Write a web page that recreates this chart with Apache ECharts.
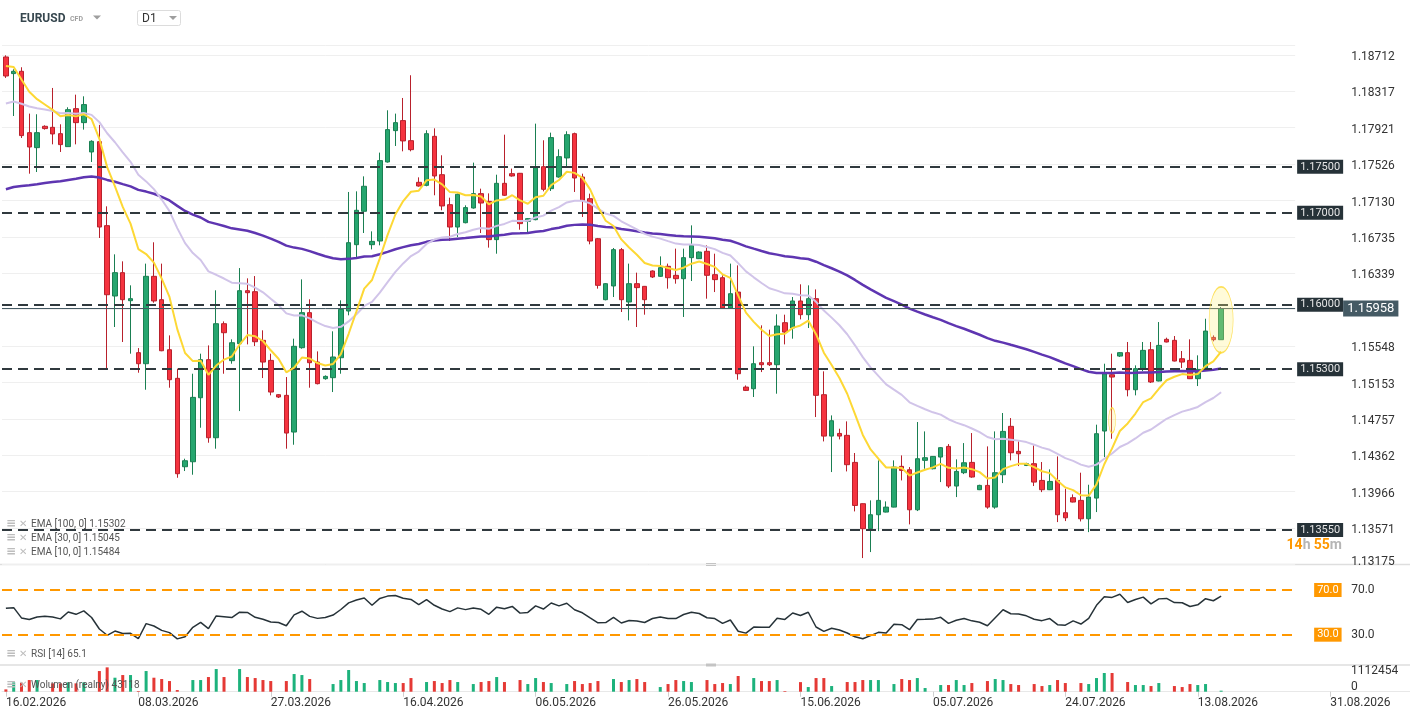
<!DOCTYPE html>
<html><head><meta charset="utf-8">
<script src="https://cdn.jsdelivr.net/npm/echarts@6/dist/echarts.min.js"></script>
<style>html,body{margin:0;padding:0;background:#fff}#c{width:1410px;height:725px}</style>
</head><body><div id="c"></div>
<script>
// ---- data (daily candles, EURUSD) ----
const opens = [1.18694,1.18513,1.18538,1.17871,1.17708,1.17940,1.17929,1.17860,1.17719,1.18132,1.17980,1.17661,1.17773,1.16860,1.16095,1.16349,1.16044,1.15479,1.15359,1.16309,1.16055,1.15511,1.15200,1.14239,1.14293,1.14989,1.15403,1.14554,1.15794,1.15392,1.15577,1.16153,1.16142,1.15613,1.15395,1.15022,1.15015,1.14616,1.15533,1.15914,1.15377,1.15196,1.15207,1.15424,1.15932,1.16653,1.17016,1.16653,1.16693,1.17552,1.17893,1.18002,1.17784,1.17331,1.17298,1.17831,1.17414,1.17088,1.16845,1.16892,1.17052,1.17208,1.17124,1.16708,1.17320,1.17425,1.17429,1.16907,1.16925,1.17501,1.17262,1.17389,1.17596,1.17860,1.17389,1.17153,1.16718,1.16055,1.16204,1.16599,1.16030,1.16229,1.16200,1.16367,1.16309,1.16418,1.16320,1.16283,1.16512,1.16501,1.16581,1.16327,1.16294,1.15964,1.16138,1.15105,1.15087,1.15370,1.15370,1.15348,1.15805,1.15747,1.16041,1.15892,1.16066,1.15022,1.14572,1.14601,1.14580,1.14286,1.13837,1.13565,1.13717,1.13746,1.13800,1.14243,1.14206,1.13771,1.14308,1.14217,1.14344,1.14460,1.14029,1.14174,1.14286,1.13989,1.14036,1.13800,1.14152,1.14678,1.14406,1.14253,1.14272,1.14090,1.13989,1.14090,1.13739,1.13902,1.13873,1.13673,1.13898,1.14627,1.15239,1.15442,1.15479,1.15076,1.15297,1.15511,1.15171,1.15624,1.15613,1.15413,1.15395,1.15196,1.15297,1.15645,1.15620];
const closes = [1.18487,1.18538,1.17839,1.17715,1.17871,1.17915,1.17857,1.17741,1.18121,1.17980,1.18176,1.17777,1.16845,1.16109,1.16349,1.16055,1.16066,1.15359,1.16309,1.16041,1.15500,1.15185,1.14163,1.14304,1.14993,1.15403,1.14554,1.15794,1.15696,1.15587,1.16153,1.16131,1.15598,1.15377,1.15051,1.14997,1.14605,1.15548,1.15914,1.15370,1.15142,1.15221,1.15432,1.15950,1.16675,1.17027,1.17288,1.16689,1.17567,1.17904,1.17980,1.17781,1.17686,1.17291,1.17860,1.17400,1.17074,1.16845,1.17201,1.17056,1.17208,1.17106,1.16708,1.17320,1.17190,1.17400,1.16882,1.16936,1.17491,1.17255,1.17817,1.17610,1.17849,1.17378,1.17135,1.16693,1.16211,1.16229,1.16599,1.16055,1.16229,1.16186,1.16055,1.16302,1.16403,1.16294,1.16283,1.16512,1.16646,1.16573,1.16320,1.16273,1.15964,1.16120,1.15250,1.15069,1.15359,1.15348,1.15348,1.15769,1.15703,1.16041,1.15892,1.16066,1.15015,1.14572,1.14739,1.14572,1.14261,1.13818,1.13565,1.13717,1.13873,1.13800,1.14235,1.14199,1.13771,1.14326,1.14337,1.14351,1.14446,1.14029,1.14188,1.14282,1.14127,1.14036,1.13800,1.14174,1.14623,1.14391,1.14380,1.14272,1.14072,1.13989,1.14079,1.13717,1.13684,1.13855,1.13673,1.13909,1.14598,1.15250,1.15214,1.15479,1.15076,1.15305,1.15504,1.15160,1.15558,1.15595,1.15388,1.15377,1.15196,1.15297,1.15714,1.15620,1.15958];
const lows = [1.18466,1.18052,1.17813,1.17425,1.17443,1.17904,1.17744,1.17661,1.17719,1.17744,1.17904,1.17552,1.16726,1.15305,1.15758,1.15595,1.15468,1.15261,1.15076,1.16022,1.15495,1.15098,1.14119,1.14192,1.14152,1.14663,1.14500,1.14435,1.15250,1.15359,1.14844,1.15569,1.15551,1.15203,1.15015,1.14986,1.14435,1.14478,1.15522,1.15098,1.15134,1.15185,1.15051,1.15250,1.15885,1.16519,1.16780,1.16602,1.16646,1.17545,1.17726,1.17668,1.17668,1.17284,1.17288,1.17190,1.17027,1.16693,1.16737,1.16885,1.17045,1.16780,1.16621,1.16555,1.17182,1.17393,1.16816,1.16791,1.16918,1.17233,1.17237,1.17382,1.17498,1.17226,1.16954,1.16657,1.16175,1.16048,1.16084,1.15921,1.15830,1.15758,1.15892,1.16291,1.16302,1.16175,1.16229,1.15867,1.16258,1.16497,1.16066,1.16138,1.15957,1.15957,1.15185,1.15062,1.14997,1.15268,1.15334,1.15033,1.15569,1.15631,1.15841,1.15747,1.14779,1.14514,1.14181,1.14536,1.14188,1.13753,1.13246,1.13311,1.13539,1.13742,1.13797,1.14090,1.13612,1.13757,1.14217,1.14210,1.14072,1.14007,1.13909,1.14159,1.14119,1.13985,1.13782,1.13782,1.14061,1.14308,1.14246,1.14246,1.14029,1.13963,1.13985,1.13637,1.13648,1.13851,1.13644,1.13528,1.13746,1.14344,1.14543,1.15432,1.15004,1.15015,1.15279,1.15149,1.15167,1.15591,1.15384,1.15312,1.15192,1.15116,1.15287,1.15602,1.15620];
const highs = [1.18712,1.18560,1.18582,1.18078,1.18071,1.17951,1.18357,1.17962,1.18147,1.18284,1.18266,1.17788,1.17955,1.17070,1.16548,1.16472,1.16211,1.15529,1.16447,1.16679,1.16447,1.15667,1.15305,1.14326,1.15250,1.15468,1.15558,1.16157,1.15819,1.15624,1.16399,1.16287,1.16312,1.15722,1.15468,1.15029,1.15214,1.15631,1.16276,1.16059,1.15493,1.15232,1.15711,1.16048,1.17226,1.17233,1.17396,1.16798,1.17654,1.18114,1.18078,1.18248,1.18495,1.17385,1.17897,1.17918,1.17625,1.17164,1.17208,1.17081,1.17545,1.17262,1.17211,1.17414,1.17849,1.17480,1.17433,1.16943,1.17969,1.17788,1.17871,1.17690,1.17886,1.17871,1.17425,1.17208,1.16726,1.16236,1.16617,1.16617,1.16447,1.16349,1.16204,1.16374,1.16526,1.16447,1.16610,1.16610,1.16863,1.16581,1.16646,1.16555,1.16320,1.16447,1.16428,1.15123,1.15548,1.15776,1.15729,1.15896,1.15892,1.16084,1.16222,1.16211,1.16167,1.15276,1.14797,1.14652,1.14732,1.14388,1.13840,1.13873,1.14308,1.13862,1.14308,1.14362,1.14235,1.14725,1.14623,1.14355,1.14453,1.14485,1.14319,1.14496,1.14605,1.14043,1.14460,1.14623,1.14823,1.14768,1.14514,1.14282,1.14471,1.14290,1.14210,1.14351,1.14000,1.13938,1.14174,1.14043,1.14696,1.15359,1.15468,1.15486,1.15595,1.15341,1.15595,1.15595,1.15812,1.15642,1.15660,1.15497,1.15624,1.15450,1.15848,1.15667,1.15975];
const volumes = [97000,389000,375000,486000,486000,0,347000,347000,389000,347000,389000,0,861000,1014000,583000,694000,694000,28000,861000,583000,528000,444000,69000,0,486000,486000,611000,944000,611000,0,944000,611000,569000,486000,444000,0,444000,736000,694000,528000,0,0,319000,486000,903000,444000,361000,0,486000,403000,361000,361000,569000,0,403000,444000,361000,486000,403000,0,319000,403000,444000,611000,403000,0,486000,319000,569000,403000,361000,0,319000,444000,319000,361000,444000,0,528000,403000,486000,528000,403000,0,194000,319000,486000,444000,403000,0,486000,319000,361000,319000,653000,0,569000,444000,444000,486000,28000,0,400000,194000,569000,569000,236000,0,403000,403000,486000,486000,486000,0,319000,528000,486000,569000,153000,0,278000,278000,486000,278000,361000,0,444000,528000,486000,319000,278000,0,319000,236000,278000,486000,361000,0,361000,319000,569000,778000,778000,0,403000,278000,278000,236000,361000,0,236000,194000,319000,278000,319000,0,43118];
const dateLabels = ['16.02.2026','08.03.2026','27.03.2026','16.04.2026','06.05.2026','26.05.2026','15.06.2026','05.07.2026','24.07.2026','13.08.2026','31.08.2026'];
const priceTicks = ['1.18712','1.18317','1.17921','1.17526','1.17130','1.16735','1.16339','1.15548','1.15153','1.14757','1.14362','1.13966','1.13571','1.13175'];
const levels = [1.175, 1.17, 1.16, 1.153, 1.1355];
const lastPrice = 1.15958;
const rsiLevels = [70, 30];
const volumeMax = 1112454;
// indicator starting values read at the first candle
const ema10Start = 1.18596, ema30Start = 1.18187, ema100Start = 1.17255;
const rsiStartGain = 0.0015, rsiStartLoss = 0.0013;
// highlight annotations (bar index, price)
const highlightBig = [156, 1.15836];
const highlightSmall = [142, 1.14743];

// ---- indicators (same definitions the chart uses) ----
function ema(src, n, start) {
  const k = 2 / (n + 1), out = [start];
  for (let i = 1; i < src.length; i++) out.push(out[i - 1] + k * (src[i] - out[i - 1]));
  return out;
}
function rsi(src, n, g0, l0) {
  let g = g0, l = l0; const out = [100 * g / (g + l)];
  for (let i = 1; i < src.length; i++) {
    const d = src[i] - src[i - 1];
    g = (g * (n - 1) + Math.max(d, 0)) / n;
    l = (l * (n - 1) + Math.max(-d, 0)) / n;
    out.push(100 * g / (g + l));
  }
  return out;
}

// ---- layout ----
const STEP = 17, BAR = 7.79, LEFT = 2, MAIN_CATS = 166, VOL_CATS = 181;
const cats = n => Array.from({length: n}, (_, i) => (i % STEP === 0 && dateLabels[i / STEP]) ? dateLabels[i / STEP] : ('d' + i));
const showDate = i => i % STEP === 0;
const FONT = 'Roboto';
const yInt = 0.0039572;

const candles = opens.map((o, i) => [o, closes[i], lows[i], highs[i]]);
const UP = '#26a66f', DOWN = '#f5333f';
const volData = volumes.map((v, i) => ({value: v, itemStyle: {color: closes[i] >= opens[i] ? '#1db27c' : '#e53935'}}));

const levelLabel = {show: true, position: 'end', distance: 2, backgroundColor: '#263238', color: '#e6e6e6',
  fontSize: 11, fontFamily: FONT, padding: [2, 3, 1, 3]};
const lineData = levels.map(v => ({yAxis: v, lineStyle: {color: '#30393e', width: 2, type: [10, 6]},
  label: Object.assign({}, levelLabel, {formatter: v.toFixed(5)})}));
lineData.push({yAxis: lastPrice, lineStyle: {color: '#455a64', width: 1, type: 'solid'},
  label: {show: true, position: 'end', distance: 48, backgroundColor: '#455a64', color: '#fff', fontSize: 13,
    fontFamily: FONT, padding: [2, 4, 1, 4], formatter: lastPrice.toFixed(5)}});

const legendItems = [
  {y: 524, t: 'EMA [100, 0] 1.15302'},
  {y: 538, t: 'EMA [30, 0] 1.15045'},
  {y: 552, t: 'EMA [10, 0] 1.15484'},
  {y: 654, t: 'RSI [14] 65.1'},
  {y: 685, t: 'Wolumen (realny) 43118'}
];
const graphics = [
  {type: 'text', x: 20, y: 18.5, style: {text: 'EURUSD', font: 'bold 12px Roboto', fill: '#37474f', verticalAlign: 'middle'}},
  {type: 'text', x: 70, y: 19, style: {text: 'CFD', font: 'bold 7px Roboto', fill: '#9e9e9e', verticalAlign: 'middle'}},
  {type: 'polygon', shape: {points: [[93, 15.5], [101, 15.5], [97, 19.5]]}, style: {fill: '#9e9e9e'}},
  {type: 'rect', shape: {x: 137.5, y: 10.5, width: 43, height: 15, r: 2}, style: {fill: '#fff', stroke: '#dcdcdc'}},
  {type: 'text', x: 142, y: 19, style: {text: 'D1', font: '12px Roboto', fill: '#333', verticalAlign: 'middle'}},
  {type: 'polygon', shape: {points: [[169, 16], [177, 16], [173, 20]]}, style: {fill: '#9e9e9e'}},
  {type: 'line', shape: {x1: 0, y1: 564.5, x2: 1410, y2: 564.5}, style: {stroke: '#dedede', lineWidth: 1.5}},
  {type: 'line', shape: {x1: 0, y1: 665, x2: 1410, y2: 665}, style: {stroke: '#dedede', lineWidth: 1.5}},
  {type: 'rect', shape: {x: 706, y: 563, width: 10, height: 3}, style: {fill: '#c4c4c4'}},
  {type: 'rect', shape: {x: 706, y: 663.5, width: 10, height: 3}, style: {fill: '#c4c4c4'}},
  {type: 'text', x: 1342, y: 545, z: 20, style: {text: '{o|14}{g|h} {o|55}{g|m}', align: 'right', verticalAlign: 'middle',
    rich: {o: {fill: '#ff9800', font: 'bold 14px Roboto'}, g: {fill: '#b5b5b5', font: 'bold 14px Roboto'}}}}
];
legendItems.forEach(it => {
  graphics.push({type: 'text', x: 6, y: it.y, z: 20, style: {text: '≡', font: 'bold 12px DejaVu Sans', fill: '#bdbdbd', verticalAlign: 'middle'}});
  graphics.push({type: 'text', x: 19, y: it.y, z: 20, style: {text: '✕', font: 'bold 10px DejaVu Sans', fill: '#bdbdbd', verticalAlign: 'middle'}});
  graphics.push({type: 'text', x: 31, y: it.y, z: 20, style: {text: it.t, font: '10px Roboto', fill: '#555', verticalAlign: 'middle'}});
});

const chart = echarts.init(document.getElementById('c'), null, {renderer: 'canvas'});
chart.setOption({
  animation: false,
  backgroundColor: '#fff',
  textStyle: {fontFamily: FONT},
  grid: [
    {left: LEFT, top: 45, width: MAIN_CATS * BAR, height: 519.5, containLabel: false, outerBoundsMode: 'none'},
    {left: LEFT, top: 556.5, width: MAIN_CATS * BAR, height: 111.7, containLabel: false, outerBoundsMode: 'none'},
    {left: LEFT, top: 665, width: VOL_CATS * BAR, height: 26.7, containLabel: false, outerBoundsMode: 'none'}
  ],
  xAxis: [
    {type: 'category', gridIndex: 0, data: cats(MAIN_CATS), show: false},
    {type: 'category', gridIndex: 1, data: cats(MAIN_CATS), show: false},
    {type: 'category', gridIndex: 2, data: cats(VOL_CATS),
      axisLine: {show: true, lineStyle: {color: '#e8e8e8', width: 1}},
      axisTick: {show: true, alignWithLabel: true, interval: showDate, length: 5, lineStyle: {color: '#cfcfcf'}},
      axisLabel: {interval: showDate, align: 'left', margin: 5, fontSize: 12, color: '#333', fontFamily: FONT},
      splitLine: {show: false}}
  ],
  yAxis: [
    {type: 'value', gridIndex: 0, position: 'right', min: yInt * 286, max: 1.18824, interval: yInt,
      axisLine: {show: false}, axisTick: {show: false},
      splitLine: {show: true, lineStyle: {color: '#efefef', width: 1}},
      axisLabel: {margin: 56, fontSize: 12, color: '#333', fontFamily: FONT, showMaxLabel: false, padding: [4, 0, 0, 0],
        formatter: v => { const h = priceTicks.find(t => Math.abs(+t - v) < 0.0002); if (!h) return ''; return h === '1.13175' ? '{low|' + h + '}' : h; },
        rich: {low: {padding: [0, 0, 9, 0], fontSize: 12, color: '#333', fontFamily: FONT}}}},
    {type: 'value', gridIndex: 1, position: 'right', min: 0, max: 100, interval: 10,
      axisLine: {show: false}, axisTick: {show: false}, splitLine: {show: false},
      axisLabel: {margin: 56, fontSize: 12, color: '#333', fontFamily: FONT, padding: [3, 0, 0, 0],
        formatter: v => rsiLevels.some(l => Math.abs(l - v) < 0.01) ? v.toFixed(1) : ''}},
    {type: 'value', gridIndex: 2, position: 'right', min: 0, max: volumeMax, interval: volumeMax,
      axisLine: {show: false}, axisTick: {show: false}, splitLine: {show: false},
      axisLabel: {inside: true, align: 'left', margin: VOL_CATS * BAR + LEFT - 1351, fontSize: 12, color: '#333', fontFamily: FONT,
        formatter: v => v === 0 ? '{b|0}' : (v >= volumeMax ? '{t|' + volumeMax + '}' : ''),
        rich: {t: {padding: [12, 0, 0, 0], fontSize: 12, color: '#333', fontFamily: FONT},
               b: {padding: [0, 0, 9, 0], fontSize: 12, color: '#333', fontFamily: FONT}}}}
  ],
  series: [
    {type: 'candlestick', name: 'EURUSD', xAxisIndex: 0, yAxisIndex: 0, data: candles, barWidth: 5, z: 2,
      itemStyle: {color: UP, color0: DOWN, borderColor: '#1a7f52', borderColor0: '#b8212c', borderWidth: 1},
      markLine: {symbol: 'none', silent: true, animation: false, precision: 5, data: lineData}},
    {type: 'line', name: 'EMA100', xAxisIndex: 0, yAxisIndex: 0, data: ema(closes, 100, ema100Start), showSymbol: false, z: 4,
      lineStyle: {color: '#5e35b1', width: 2.5}},
    {type: 'line', name: 'EMA30', xAxisIndex: 0, yAxisIndex: 0, data: ema(closes, 30, ema30Start), showSymbol: false, z: 4,
      lineStyle: {color: '#d1c4e9', width: 2}},
    {type: 'line', name: 'EMA10', xAxisIndex: 0, yAxisIndex: 0, data: ema(closes, 10, ema10Start), showSymbol: false, z: 5,
      lineStyle: {color: '#fdd835', width: 2}},
    {type: 'scatter', xAxisIndex: 0, yAxisIndex: 0, data: [highlightBig], symbol: 'circle', symbolSize: [24, 66], z: 6, silent: true,
      itemStyle: {color: 'rgba(255,241,118,0.35)', borderColor: '#fdd835', borderWidth: 1}},
    {type: 'scatter', xAxisIndex: 0, yAxisIndex: 0, data: [highlightSmall], symbol: 'circle', symbolSize: [7, 25], z: 6, silent: true,
      itemStyle: {color: 'rgba(255,241,118,0.35)', borderColor: '#fdd835', borderWidth: 1}},
    {type: 'line', name: 'RSI', xAxisIndex: 1, yAxisIndex: 1, data: rsi(closes, 14, rsiStartGain, rsiStartLoss), showSymbol: false, z: 4,
      lineStyle: {color: '#263238', width: 1.5},
      markLine: {symbol: 'none', silent: true, animation: false, precision: 1,
        data: rsiLevels.map(v => ({yAxis: v})),
        lineStyle: {color: '#ff9800', width: 2, type: [10, 6]},
        label: {show: true, position: 'end', distance: 19, backgroundColor: '#ff9800', color: '#fff', fontSize: 11,
          fontFamily: FONT, padding: [2, 3, 1, 3], formatter: p => (+p.value).toFixed(1)}}},
    {type: 'bar', name: 'Wolumen', xAxisIndex: 2, yAxisIndex: 2, data: volData, barWidth: 3, z: 2}
  ],
  graphic: graphics
});
</script></body></html>
